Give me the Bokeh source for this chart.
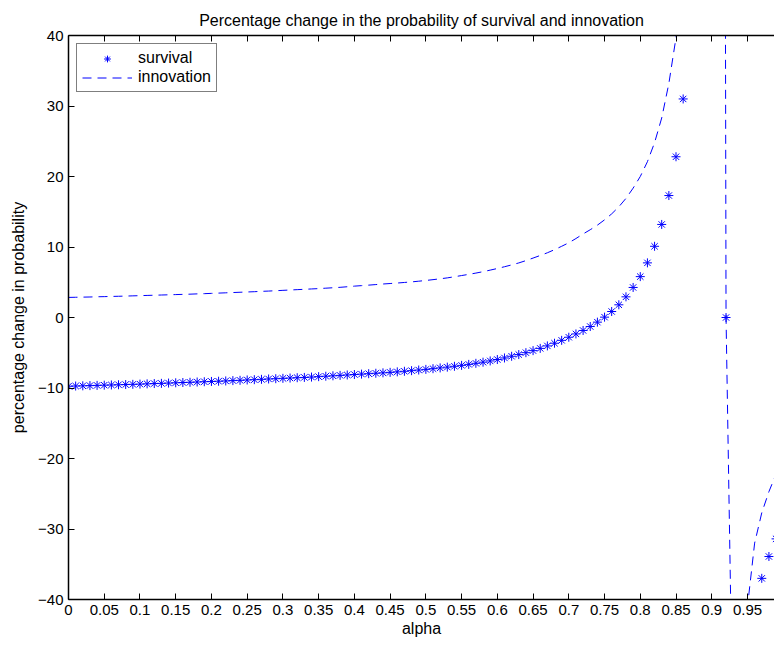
from bokeh.plotting import figure
from bokeh.models import Range1d, FixedTicker, LinearAxis, Legend, LegendItem
from bokeh.embed import file_html
from bokeh.resources import INLINE

# ---------------- data ----------------
alpha = [i / 100 for i in range(100)]  # x grid 0.00 .. 0.99

survival = [
    -9.75, -9.72, -9.69, -9.66, -9.63, -9.60, -9.57, -9.54, -9.51, -9.48,
    -9.45, -9.41, -9.37, -9.34, -9.30, -9.26, -9.22, -9.19, -9.15, -9.11,
    -9.07, -9.04, -9.00, -8.95, -8.91, -8.86, -8.82, -8.77, -8.72, -8.68,
    -8.63, -8.59, -8.54, -8.50, -8.45, -8.39, -8.33, -8.27, -8.21, -8.15,
    -8.09, -8.03, -7.97, -7.91, -7.85, -7.78, -7.71, -7.63, -7.54, -7.45,
    -7.36, -7.26, -7.15, -7.04, -6.92, -6.79, -6.65, -6.50, -6.34, -6.16,
    -5.96, -5.74, -5.50, -5.26, -4.99, -4.70, -4.38, -4.03, -3.65, -3.24,
    -2.80, -2.33, -1.84, -1.28, -0.66, 0.05, 0.85, 1.80, 2.93, 4.26,
    5.80, 7.75, 10.1, 13.2, 17.3, 22.8, 31.0, 43.5, 62.0, 95.0,
    170.0, 450.0, 0.0, -95.0, -62.0, -48.0, -42.0, -37.0, -33.9, -31.4,
]

innovation = [
    2.85, 2.87, 2.89, 2.91, 2.94, 2.96, 2.99, 3.01, 3.04, 3.07,
    3.10, 3.13, 3.16, 3.19, 3.22, 3.25, 3.28, 3.31, 3.35, 3.38,
    3.42, 3.46, 3.50, 3.54, 3.58, 3.62, 3.66, 3.71, 3.75, 3.80,
    3.85, 3.90, 3.95, 4.00, 4.05, 4.10, 4.16, 4.22, 4.28, 4.36,
    4.45, 4.52, 4.59, 4.67, 4.75, 4.82, 4.89, 4.97, 5.05, 5.15,
    5.25, 5.37, 5.49, 5.62, 5.78, 5.95, 6.12, 6.30, 6.50, 6.72,
    6.95, 7.20, 7.46, 7.74, 8.07, 8.43, 8.80, 9.18, 9.62, 10.10,
    10.60, 11.20, 11.85, 12.45, 13.10, 13.85, 14.70, 15.70, 16.90, 18.35,
    20.0, 22.1, 24.8, 28.3, 33.2, 39.7, 50.0, 65.0, 90.0, 135.0,
    230.0, 520.0, 0.0, -62.0, -49.0, -41.0, -32.0, -27.7, -24.7, -22.2,
]

x_tick_labels = ["0", "0.05", "0.1", "0.15", "0.2", "0.25", "0.3", "0.35", "0.4",
                 "0.45", "0.5", "0.55", "0.6", "0.65", "0.7", "0.75", "0.8", "0.85",
                 "0.9", "0.95"]
y_tick_labels = ["\u221240", "\u221230", "\u221220", "\u221210", "0", "10", "20", "30", "40"]
y_tick_values = [-40, -30, -20, -10, 0, 10, 20, 30, 40]

title_text = "Percentage change in the probability of survival and innovation"
x_label = "alpha"
y_label = "percentage change in probability"

# ---------------- figure ----------------
FONT = "Liberation Sans"
BLUE = "#0000ff"

p = figure(width=774, height=645, output_backend="svg", toolbar_location=None,
           x_range=Range1d(0, 0.9878), y_range=Range1d(-40, 40),
           min_border_left=68, min_border_right=0, min_border_top=35,
           min_border_bottom=46, background_fill_color="white",
           border_fill_color="white")
p.outline_line_color = None
p.xgrid.grid_line_color = None
p.ygrid.grid_line_color = None

p.title.text = title_text
p.title.align = "center"
p.title.text_font = FONT
p.title.text_font_size = "16px"
p.title.text_font_style = "normal"
p.title.text_color = "black"
p.title.standoff = 13

x_ticks = [float(s) for s in x_tick_labels]
x_over = {float(s): s for s in x_tick_labels}
y_over = {v: s for v, s in zip(y_tick_values, y_tick_labels)}


def style_axis(ax):
    ax.axis_line_color = "black"
    ax.axis_line_width = 1.5
    ax.major_tick_line_color = "black"
    ax.major_tick_in = 6
    ax.major_tick_out = 0
    ax.minor_tick_line_color = None
    ax.major_label_text_font = FONT
    ax.major_label_text_font_size = "15px"
    ax.major_label_text_color = "black"
    ax.axis_label_text_font = FONT
    ax.axis_label_text_font_size = "16px"
    ax.axis_label_text_font_style = "normal"
    ax.axis_label_text_color = "black"


xa = p.xaxis[0]
xa.ticker = FixedTicker(ticks=x_ticks)
xa.major_label_overrides = x_over
xa.axis_label = x_label
xa.major_label_standoff = 5
xa.axis_label_standoff = 2
style_axis(xa)

ya = p.yaxis[0]
ya.ticker = FixedTicker(ticks=y_tick_values)
ya.major_label_overrides = y_over
ya.axis_label = y_label
ya.major_label_standoff = 5
ya.axis_label_standoff = 8
style_axis(ya)

# top box edge: ticks only (as minor ticks, so no labels are drawn)
top = LinearAxis(ticker=FixedTicker(ticks=[], minor_ticks=x_ticks))
style_axis(top)
top.minor_tick_line_color = "black"
top.minor_tick_in = 6
top.minor_tick_out = 0
top.major_label_standoff = 0
p.add_layout(top, "above")

r_inn = p.line(alpha, innovation, line_color=BLUE, line_width=1, line_dash="9 6")
r_surv = p.scatter(alpha, survival, marker="asterisk", size=9,
                   line_color=BLUE, line_width=1)

legend = Legend(items=[LegendItem(label="survival", renderers=[r_surv]),
                       LegendItem(label="innovation", renderers=[r_inn])],
                location="top_left")
legend.margin = 8
legend.padding = 5
legend.spacing = 1
legend.glyph_width = 50
legend.glyph_height = 17
legend.label_height = 17
legend.label_standoff = 6
legend.label_text_font = FONT
legend.label_text_font_size = "16px"
legend.label_text_color = "black"
legend.border_line_color = "black"
legend.border_line_width = 1
legend.background_fill_color = "white"
legend.background_fill_alpha = 1.0
p.add_layout(legend)

open("out.html", "w").write(file_html(p, INLINE))
